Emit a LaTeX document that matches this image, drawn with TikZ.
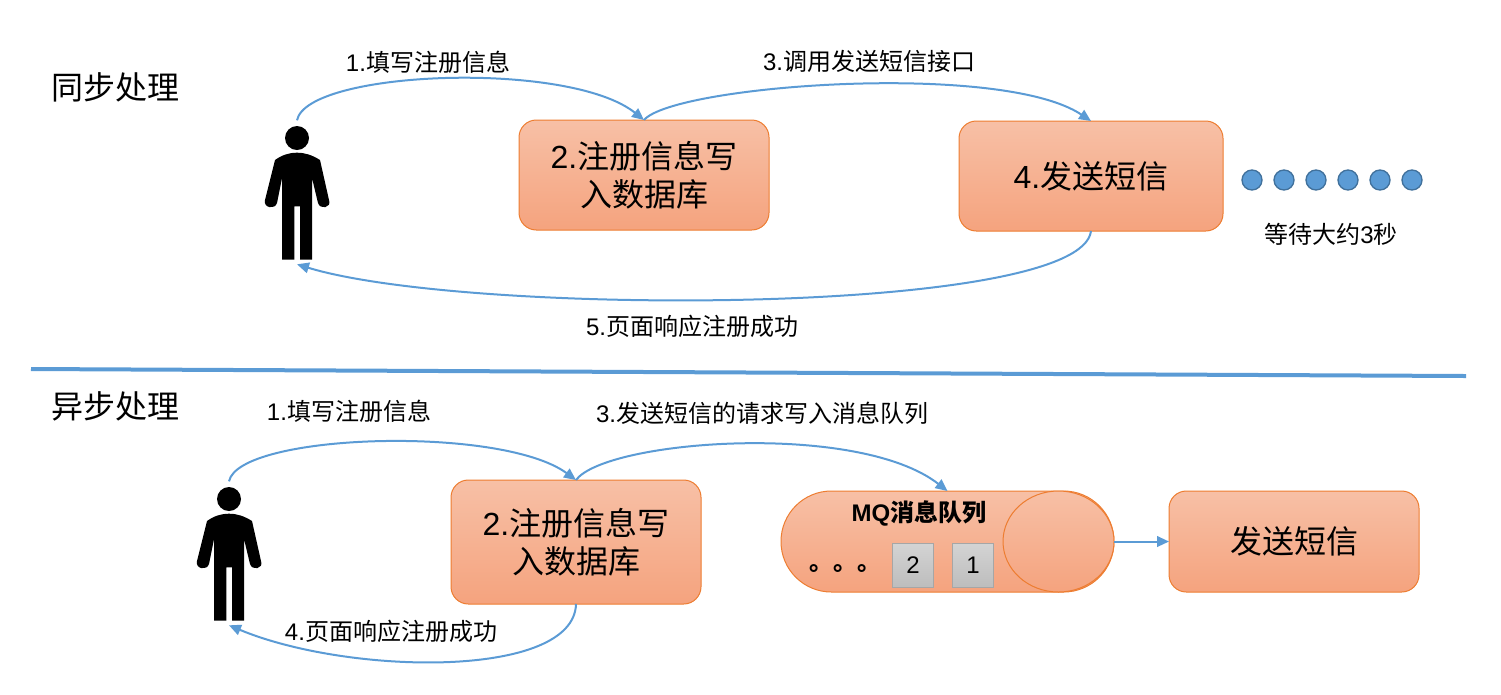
\documentclass[tikz,border=0pt]{standalone}
\usepackage{fontspec}
\usepackage{xcolor}
\usepackage{tikz}
\usetikzlibrary{arrows.meta,positioning,shapes.geometric}
\setmainfont{Liberation Sans}
\newfontfamily\cjk{Noto Sans CJK SC}
\newcommand{\zh}[1]{{\cjk #1}}
\definecolor{mqedge}{RGB}{237,125,49}
\definecolor{mqtop}{RGB}{247,192,166}
\definecolor{mqbot}{RGB}{245,163,126}
\definecolor{mqarr}{RGB}{91,155,213}
\definecolor{mqdot}{RGB}{65,113,156}
\definecolor{mqgrey}{RGB}{166,166,166}
\tikzset{
  stepbox/.style={
    draw=mqedge, line width=0.75pt, rounded corners=13pt, shade,
    top color=mqtop, bottom color=mqbot, align=center, outer sep=0pt,
    inner sep=0pt, font=\fontsize{24}{28.5}\selectfont
  },
  slot/.style={
    draw=mqgrey, line width=0.75pt, shade, top color=black!17, bottom color=black!26,
    minimum width=31pt, minimum height=33.5pt, inner sep=0pt, outer sep=0pt,
    font=\fontsize{18}{22}\selectfont
  },
  wait/.style={
    circle, draw=mqdot, fill=mqarr, line width=1pt,
    minimum size=15pt, inner sep=0pt, outer sep=0pt
  },
  arr/.style={-{Triangle[length=9pt,width=8pt]}, draw=mqarr, line width=1.5pt},
  anno/.style={font=\fontsize{18}{22}\selectfont, inner sep=0pt},
  headline/.style={font=\fontsize{24}{29}\selectfont, inner sep=0pt},
  person/.pic={
    \fill (0,0) circle[radius=12];
    \fill (0,14.7) .. controls (-8,14.7) and (-15,17) .. (-22,22)
      -- (-32,62) .. controls (-34,70) and (-22,72) .. (-20,65)
      -- (-15,40) -- (-15,121.7) -- (-2.7,121.7) -- (-2.7,68.3) -- (3,68.3)
      -- (3,121.7) -- (15,121.7) -- (15,40) -- (21,65)
      .. controls (23,72) and (35,70) .. (32,62)
      -- (23,22) .. controls (15,17) and (8,14.7) .. (0,14.7) -- cycle;
    \coordinate (-top) at (0,-17.7);
    \coordinate (-foot) at (0,126.3);
  }
}
\begin{document}
\begin{tikzpicture}[x=0.75pt, y=-0.75pt, node distance=9pt and 9pt]
  \useasboundingbox (0,0) rectangle (1501,694);

  % top half
  \node[headline] (synctitle) at (115,87) {\zh{同步处理}};
  \pic (syncuser) at (297,138) {person};
  \node[stepbox, minimum width=187.5pt, minimum height=82.5pt] (syncdb) at (644,175)
    {2.\zh{注册信息写}\\\zh{入数据库}};
  \node[stepbox, minimum width=198pt, minimum height=82.5pt] (syncsms) at (1091,176)
    {4.\zh{发送短信}};
  \node[wait] (w1) at (1252,180) {};
  \node[wait, right=of w1] (w2) {};
  \node[wait, right=of w2] (w3) {};
  \node[wait, right=of w3] (w4) {};
  \node[wait, right=of w4] (w5) {};
  \node[wait, right=of w5] (w6) {};
  \node[anno] (waitlabel) at (1331,234) {\zh{等待大约}3\zh{秒}};
  \node[anno] (syncfill) at (428,62) {1.\zh{填写注册信息}};
  \node[anno] (synccall) at (869,61) {3.\zh{调用发送短信接口}};
  \node[anno] (syncdone) at (692,326) {5.\zh{页面响应注册成功}};

  \draw[arr] (syncuser-top) .. controls +(10,-50) and +(-75,-60) .. (syncdb.north);
  \draw[arr] (syncdb.north) .. controls +(30,-35) and +(-90,-60) .. (syncsms.north);
  \draw[arr] (syncsms.south) .. controls +(-10,85) and +(170,52) .. (syncuser-foot);

  % divider
  \coordinate (ruleleft) at (31,369);
  \coordinate (ruleright) at (1466,376);
  \draw[draw=mqarr, line width=3pt] (ruleleft) -- (ruleright);

  % bottom half
  \node[headline] (asynctitle) at (115,406) {\zh{异步处理}};
  \pic (asyncuser) at (229,499) {person};
  \node[stepbox, minimum width=187.5pt, minimum height=93pt] (asyncdb) at (576,542)
    {2.\zh{注册信息写}\\\zh{入数据库}};
  \node[stepbox, minimum width=249.75pt, minimum height=75.75pt, rounded corners=37.8pt] (queue) at (947.5,541.5) {};
  \node[ellipse, draw=mqedge, line width=0.75pt, shade, top color=mqtop, bottom color=mqbot,
    minimum width=83.25pt, minimum height=75.75pt, inner sep=0pt, outer sep=0pt] (queueend) at (1058.5,541.5) {};
  \node[font=\fontsize{18}{22}\selectfont\bfseries, inner sep=0pt] (queuename) at (919,513) {MQ\zh{消息队列}};
  \node[slot] (msgone) at (973,565.5) {1};
  \node[slot, left=14pt of msgone] (msgtwo) {2};
  \node[anno] (msgmore) at (845,568) {\bfseries\zh{。。。}};
  \node[stepbox, minimum width=187.5pt, minimum height=75.75pt] (asyncsms) at (1294,541.5) {\zh{发送短信}};
  \node[anno] (asyncfill) at (349,411) {1.\zh{填写注册信息}};
  \node[anno] (asyncput) at (762,413) {3.\zh{发送短信的请求写入消息队列}};
  \node[anno] (asyncdone) at (391,631) {4.\zh{页面响应注册成功}};

  \draw[arr] (asyncuser-top) .. controls +(10,-48) and +(-75,-55) .. (asyncdb.north);
  \draw[arr] (asyncdb.north) .. controls +(30,-40) and +(-90,-70) .. (queue.north);
  \draw[arr] (asyncdb.south) .. controls +(-2,75) and +(120,50) .. (asyncuser-foot);
  \draw[arr] (queueend.east) -- (asyncsms.west);
\end{tikzpicture}
\end{document}
